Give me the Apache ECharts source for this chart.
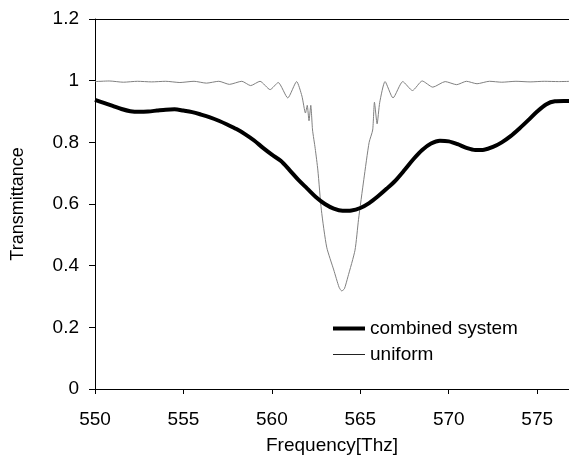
<!DOCTYPE html>
<html>
<head>
<meta charset="utf-8">
<script src="https://cdn.jsdelivr.net/npm/echarts@6/dist/echarts.min.js"></script>
<style>html,body{margin:0;padding:0;background:#fff;}#c{width:569px;height:464px;}</style>
</head>
<body>
<div id="c"></div>
<script>
var seriesNames = ['combined system', 'uniform'];
var xTicks = [550, 555, 560, 565, 570, 575];
var yTicks = [0, 0.2, 0.4, 0.6, 0.8, 1, 1.2];

var freqCombined = [550,550.5,551,551.5,552,552.5,553,553.5,554,554.5,555,555.5,556,556.5,557,557.5,558,558.5,559,559.5,560,560.5,561,561.5,562,562.5,563,563.5,564,564.5,565,565.5,566,566.5,567,567.5,568,568.5,569,569.5,570,570.5,571,571.5,572,572.5,573,573.5,574,574.5,575,575.5,576,576.5,577];
var combinedT = [0.938,0.928,0.918,0.908,0.901,0.899,0.900,0.903,0.906,0.907,0.903,0.898,0.890,0.881,0.870,0.857,0.843,0.826,0.806,0.782,0.760,0.740,0.710,0.678,0.650,0.622,0.600,0.585,0.578,0.579,0.587,0.603,0.625,0.650,0.677,0.710,0.745,0.775,0.796,0.805,0.803,0.794,0.782,0.775,0.776,0.785,0.800,0.820,0.845,0.872,0.900,0.923,0.933,0.934,0.934];

var freqUniform = [550,550.8,551.6,552.4,553.2,554.0,554.8,555.6,556.3,557.0,557.6,558.3,558.8,559.33,559.9,560.36,560.9,561.4,561.7,561.9,562.0,562.1,562.2,562.3,562.45,562.6,562.8,563.1,563.5,563.8,563.95,564.1,564.3,564.7,564.9,565.2,565.5,565.7,565.8,565.95,566.1,566.4,566.85,567.4,567.95,568.5,569.1,569.8,570.45,571.0,571.6,572.3,573.0,573.8,574.6,575.4,576.2,577];
var uniformT = [0.997,0.999,0.995,0.998,0.996,0.998,0.994,0.998,0.992,0.998,0.988,0.998,0.984,0.998,0.971,0.994,0.944,0.997,0.950,0.895,0.920,0.870,0.920,0.840,0.780,0.710,0.580,0.460,0.386,0.330,0.318,0.325,0.364,0.450,0.550,0.680,0.800,0.840,0.930,0.860,0.930,0.997,0.944,0.997,0.968,0.999,0.979,0.997,0.987,0.998,0.990,0.998,0.995,0.998,0.996,0.998,0.997,0.998];

function zip(xs, ys){ return xs.map(function(x,i){ return [x, ys[i]]; }); }

var FONT = 'Liberation Sans, Arial, sans-serif';
var chart = echarts.init(document.getElementById('c'), null, {renderer:'canvas'});
chart.setOption({
  animation: false,
  backgroundColor: '#fff',
  grid: {left: 95, top: 19, right: 0, bottom: 75, containLabel: false, outerBoundsMode: 'none'},
  legend: {
    orient: 'vertical', left: 328, top: 314, itemWidth: 32, itemHeight: 14, itemGap: 7,
    data: [
      {name: seriesNames[0], icon: 'path://M0,0L32,0L32,4L0,4Z'},
      {name: seriesNames[1], icon: 'path://M0,0L32,0L32,1L0,1Z'}
    ],
    textStyle: {fontFamily: FONT, fontSize: 19, color: '#000'}
  },
  xAxis: [{
    type: 'value', min: xTicks[0], max: 576.8, interval: 5,
    name: 'Frequency[Thz]', nameLocation: 'middle', nameGap: 47,
    nameTextStyle: {fontFamily: FONT, fontSize: 19, color: '#000'},
    axisLine: {lineStyle: {color: '#000', width: 1}},
    axisTick: {show: true, inside: false, length: 5, lineStyle: {color: '#000'}},
    axisLabel: {fontFamily: FONT, fontSize: 19, color: '#000', margin: 21, showMaxLabel: false},
    splitLine: {show: false}
  }, {
    type: 'value', position: 'top', min: xTicks[0], max: 576.8, interval: 5,
    axisLine: {show: true, lineStyle: {color: '#000', width: 1}},
    axisTick: {show: false}, axisLabel: {show: false}, splitLine: {show: false}
  }],
  yAxis: {
    type: 'value', min: yTicks[0], max: yTicks[yTicks.length-1], interval: 0.2,
    name: 'Transmittance', nameLocation: 'middle', nameGap: 68,
    nameTextStyle: {fontFamily: FONT, fontSize: 18, color: '#000'},
    axisLine: {show: true, lineStyle: {color: '#000', width: 1}},
    axisTick: {show: true, inside: false, length: 6, lineStyle: {color: '#000'}},
    axisLabel: {fontFamily: FONT, fontSize: 19, color: '#000', margin: 16},
    splitLine: {show: false}
  },
  series: [{
    name: seriesNames[0], type: 'line', symbol: 'none', smooth: 0.3,
    data: zip(freqCombined, combinedT),
    lineStyle: {color: '#000', width: 4}, itemStyle: {color: '#000'}, z: 3
  }, {
    name: seriesNames[1], type: 'line', symbol: 'none', smooth: 0.2,
    data: zip(freqUniform, uniformT),
    lineStyle: {color: '#808080', width: 1}, itemStyle: {color: '#222'}, z: 2
  }]
});
</script>
</body>
</html>
